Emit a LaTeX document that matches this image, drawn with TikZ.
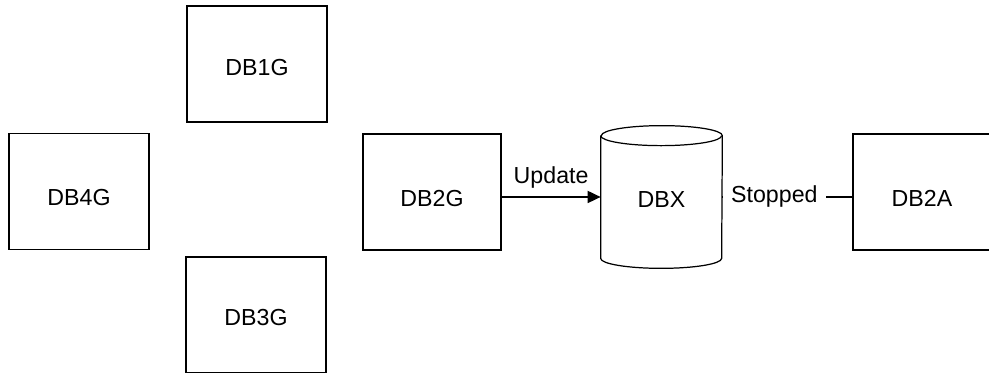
\documentclass[tikz,border=0pt]{standalone}
\usepackage{fontspec}
\setmainfont{Liberation Sans}
\usetikzlibrary{arrows.meta, positioning, calc}
\tikzset{
    dbbox/.style={draw=black, line width=0.7pt, minimum width=2.8cm, minimum height=2.32cm, inner sep=0pt, text height=11.4pt, text depth=0pt},
    rowbox/.style={dbbox, minimum width=2.76cm, text height=16.4pt},
    dblink/.style={line width=1pt}
}

\begin{document}
\begin{tikzpicture}[font=\fontsize{13.2}{16}\selectfont, >={Triangle[length=2.6mm, width=2.4mm]}]
        \useasboundingbox (0,0) rectangle (19.78,7.46);
        % Nodes
        \node[dbbox, text height=13.6pt] (db1g) at (5.14,6.18) {DB1G};
        \node[dbbox, text height=16.4pt] (db4g) at (1.58,3.63) {DB4G};
        \node[dbbox] (db3g) at (5.12,1.16) {DB3G};
        \node[rowbox] (db2g) at (8.64,3.62) {DB2G};
        \node[minimum width=2.42cm, minimum height=2.84cm, inner sep=0pt, text height=11.4pt, text depth=0pt] (dbx) at (13.23,3.52) {DBX};
        \node[rowbox] (db2a) at (18.44,3.62) {DB2A};

        % Cylinder outline
        \draw[line width=0.7pt] ($(dbx.north west)+(0,-0.2)$) -- ($(dbx.south west)+(0,0.2)$)
            arc (180:360:1.21 and 0.2) -- ($(dbx.north east)+(0,-0.2)$)
            arc (0:180:1.21 and 0.2);
        \draw[line width=0.7pt] ($(dbx.north west)+(0,-0.2)$) arc (180:360:1.21 and 0.2);

        % Paths
        \draw[->, dblink] (db2g.east |- dbx.west) -- (dbx.west) node[midway, above=1pt] {Update};
        \draw[dblink] (dbx.east) -- (dbx.east -| db2a.west) node[pos=0.4, fill=white, inner xsep=4.6pt] {Stopped};
    \end{tikzpicture}
\end{document}
